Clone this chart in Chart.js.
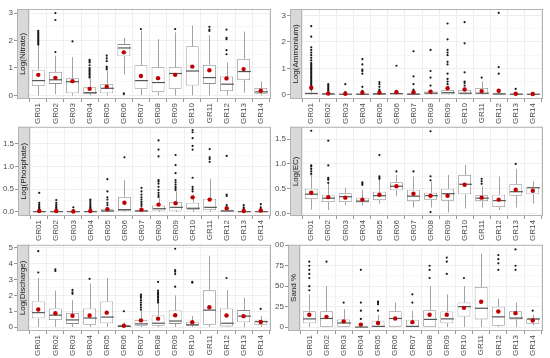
<!DOCTYPE html>
<html>
<head>
<meta charset="utf-8">
<script src="https://cdn.jsdelivr.net/npm/chart.js@4.4.1/dist/chart.umd.min.js"></script>
<style>
  body { margin: 0; background: #fff; }
  #wrap { position: relative; width: 550px; height: 358px; overflow: hidden; }
  canvas { position: absolute; }
</style>
</head>
<body>
<div id="wrap">
  <canvas id="c1"></canvas>
  <canvas id="c2"></canvas>
  <canvas id="c3"></canvas>
  <canvas id="c4"></canvas>
  <canvas id="c5"></canvas>
  <canvas id="c6"></canvas>
</div>
<script>
// groups on the x axis
const categories = ['GR01', 'GR02', 'GR03', 'GR04', 'GR05', 'GR06', 'GR07', 'GR08', 'GR09', 'GR10', 'GR11', 'GR12', 'GR13', 'GR14']

// box rows: [lower whisker, q1, median, q3, upper whisker]
const nitrateBox = [
    [0, 0.34, 0.54, 0.94, 1.8], [0.05, 0.42, 0.57, 0.86, 1.45], [0, 0.08, 0.5, 0.63, 1.4],
    [0, 0.05, 0.1, 0.3, 0.6], [0, 0.08, 0.26, 0.42, 0.9], [0.76, 1.43, 1.73, 1.87, 2.1],
    [0, 0.24, 0.54, 1.1, 2.35], [0, 0.12, 0.47, 1.03, 2.05], [0, 0.24, 0.8, 1.03, 2.3],
    [0, 0.36, 0.89, 1.79, 2.55], [0, 0.42, 0.65, 1.11, 2.2], [0, 0.16, 0.41, 0.69, 1.2],
    [0.1, 0.56, 0.87, 1.33, 2.33], [0, 0.06, 0.13, 0.27, 0.5]
]
const nitrateMean = [0.75, 0.64, 0.52, 0.24, 0.32, 1.57, 0.71, 0.63, 0.75, 1.05, 0.92, 0.62, 0.96, 0.17]
const nitrateOut = [
    [1.85, 1.9, 1.95, 2.0, 2.05, 2.1, 2.15, 2.2, 2.25, 2.3, 2.35], [1.58, 2.75, 3.0], [1.97],
    [0.65, 0.7, 0.75, 0.8, 0.85, 0.9, 0.95, 1.0, 1.1, 1.2, 1.25, 1.3], [0.95, 1.0, 1.05, 1.25, 1.35, 1.45],
    [0.05, 0.08], [2.42], [], [2.42], [], [2.35, 2.4, 2.5], [1.5, 1.65, 2.05, 2.1, 2.4], [], []
]

const ammoniumBox = [
    [0, 0.02, 0.05, 0.08, 0.15], [0, 0, 0.03, 0.06, 0.12], [0, 0, 0.02, 0.04, 0.08],
    [0, 0, 0.02, 0.05, 0.1], [0, 0, 0.03, 0.07, 0.12], [0, 0.02, 0.04, 0.08, 0.12],
    [0, 0, 0.02, 0.06, 0.12], [0, 0.02, 0.06, 0.12, 0.2], [0, 0.02, 0.08, 0.18, 0.35],
    [0, 0.02, 0.06, 0.18, 0.3], [0, 0.02, 0.06, 0.26, 0.5], [0, 0, 0.03, 0.06, 0.12],
    [0, 0, 0.02, 0.05, 0.1], [0, 0, 0.02, 0.04, 0.08]
]
const ammoniumMean = [0.27, 0.05, 0.04, 0.08, 0.08, 0.1, 0.1, 0.12, 0.25, 0.2, 0.14, 0.15, 0.04, 0.03]
const ammoniumOut = [
    [0.2, 0.25, 0.3, 0.35, 0.4, 0.45, 0.5, 0.55, 0.6, 0.65, 0.7, 0.75, 0.8, 0.85, 0.9, 0.95, 1.0, 1.05, 1.1, 1.15, 1.2, 1.3, 1.4, 1.5, 1.6, 1.7, 1.8, 2.2, 2.6],
    [0.15, 0.2, 0.25, 0.3, 0.35, 0.4], [0.1, 0.4], [0.15, 0.3, 0.8, 0.9, 0.95, 1.15, 1.35],
    [0.15, 0.2, 0.3, 0.4, 0.48], [0.15, 1.1], [0.15, 0.2, 0.4, 0.7, 1.65], [0.35, 0.65, 0.9, 1.7],
    [0.4, 0.5, 0.6, 0.8, 1.15, 1.25, 1.5, 1.6, 1.7, 2.1, 2.7], [0.35, 0.45, 0.5, 0.85, 1.95, 2.75],
    [0.65], [0.15, 0.8, 1.05, 3.1], [0.22], []
]

const phosphateBox = [
    [0, 0, 0.005, 0.01, 0.03], [0, 0, 0.005, 0.01, 0.03], [0, 0, 0.005, 0.01, 0.02],
    [0, 0, 0.005, 0.01, 0.03], [0, 0.01, 0.02, 0.06, 0.12], [0, 0.02, 0.05, 0.33, 0.7],
    [0, 0.01, 0.02, 0.05, 0.1], [0, 0.03, 0.07, 0.14, 0.3], [0, 0.03, 0.1, 0.22, 0.45],
    [0, 0.05, 0.08, 0.2, 0.38], [0, 0.04, 0.1, 0.29, 0.72], [0, 0.01, 0.02, 0.05, 0.1],
    [0, 0, 0.005, 0.02, 0.04], [0, 0, 0.005, 0.01, 0.03]
]
const phosphateMean = [0.02, 0.02, 0.01, 0.02, 0.06, 0.2, 0.05, 0.16, 0.19, 0.32, 0.27, 0.08, 0.02, 0.03]
const phosphateOut = [
    [0.05, 0.08, 0.1, 0.13, 0.16, 0.2, 0.42], [0.05, 0.08, 0.1, 0.13, 0.16, 0.2, 0.26], [0.04, 0.1],
    [0.05, 0.08, 0.1, 0.13, 0.16, 0.2, 0.24, 0.27], [0.15, 0.2, 0.27, 0.32, 0.45, 0.72], [1.2],
    [0.13, 0.17, 0.22, 0.27, 0.32, 0.38, 0.45, 0.53],
    [0.33, 0.37, 0.42, 0.48, 0.55, 0.62, 0.67, 0.7, 1.22, 1.37, 1.57],
    [0.48, 0.52, 0.55, 0.6, 0.65, 0.7, 0.85, 1.03, 1.25],
    [0.45, 0.5, 0.55, 0.75, 1.37, 1.45, 1.62, 1.75, 1.8],
    [1.1, 1.16, 1.2, 1.38], [0.15, 0.35, 0.38, 1.23], [0.07, 0.1, 0.15], [0.06, 0.1, 0.17]
]

const ecBox = [
    [0.08, 0.29, 0.39, 0.5, 0.78], [0.07, 0.23, 0.31, 0.38, 0.6], [0.17, 0.23, 0.34, 0.41, 0.52],
    [0.16, 0.22, 0.25, 0.32, 0.48], [0.2, 0.27, 0.36, 0.44, 0.68], [0.35, 0.47, 0.55, 0.63, 0.78],
    [0.12, 0.25, 0.35, 0.48, 0.75], [0.12, 0.28, 0.36, 0.42, 0.64], [0.02, 0.26, 0.4, 0.5, 0.78],
    [0.1, 0.39, 0.59, 0.78, 0.98], [0.12, 0.25, 0.31, 0.37, 0.55], [0.07, 0.13, 0.26, 0.38, 0.75],
    [0.12, 0.36, 0.44, 0.59, 0.9], [0.2, 0.39, 0.52, 0.54, 0.65]
]
const ecMean = [0.42, 0.33, 0.32, 0.28, 0.38, 0.55, 0.4, 0.36, 0.36, 0.58, 0.32, 0.28, 0.48, 0.46]
const ecOut = [
    [0.8, 0.85, 0.9, 0.95, 0.97, 1.67], [0.62, 0.68, 0.7, 0.72, 0.97, 1.47], [], [0.58, 0.6, 0.63],
    [0.7, 0.72, 0.75, 1.18], [0.85], [0.85], [0.03, 0.67, 0.75, 1.66], [], [], [0.6, 0.65, 0.7], [], [1.0], []
]

const dischargeBox = [
    [0, 0.55, 0.91, 1.62, 3.1], [0, 0.45, 0.75, 1.18, 2.3], [0, 0.2, 0.45, 0.89, 1.7],
    [0, 0.14, 0.57, 1.17, 2.75], [0, 0.24, 0.63, 1.62, 3.1], [0, 0, 0.04, 0.14, 0.3],
    [0, 0.08, 0.2, 0.45, 1.0], [0, 0.08, 0.24, 0.73, 1.5], [0, 0.2, 0.38, 1.05, 2.0],
    [0, 0.08, 0.14, 0.34, 0.7], [0, 0.14, 1.07, 2.32, 4.5], [0, 0.04, 0.24, 1.17, 2.35],
    [0, 0.3, 0.69, 1.07, 1.85], [0, 0.14, 0.34, 0.42, 0.7]
]
const dischargeMean = [1.11, 0.87, 0.71, 0.73, 0.91, 0.08, 0.42, 0.53, 0.75, 0.3, 1.25, 0.73, 0.69, 0.32]
const dischargeOut = [
    [3.45, 4.8], [3.55, 3.65], [2.1, 2.2, 2.35], [3.05], [], [1.0],
    [1.1, 1.25, 1.4, 1.55, 1.7, 1.85, 1.95, 2.05],
    [1.55, 1.65, 1.75, 1.85, 1.95, 2.05, 2.1, 2.2, 2.3, 2.85],
    [2.55, 3.35, 3.5, 3.6, 4.95], [2.8, 2.85], [], [3.1], [], [1.15]
]

const sandBox = [
    [0, 4.7, 10, 19.5, 40], [0, 0.4, 10.5, 19.5, 50], [0, 0.4, 5, 9.4, 22],
    [0, 0, 0, 0.8, 2], [0, 0, 0.8, 7.8, 15], [0, 0, 10.5, 19.5, 30],
    [0, 0, 0.8, 9, 20], [0, 0.4, 9.4, 20.7, 50], [0, 4.7, 10, 19, 40],
    [0, 13, 25, 30, 50], [0, 9.4, 23, 49, 90], [0, 1.6, 12.5, 25, 35],
    [0, 9.4, 11, 19.5, 30], [2, 4, 10, 10, 15]
]
const sandMean = [15, 12.5, 7, 3, 5, 10.5, 6, 15, 15, 23.5, 31, 19, 17, 8]
const sandOut = [
    [45, 50, 60, 65, 70, 75, 80], [80], [30], [10, 20, 30, 70], [20, 28, 30, 31], [], [30, 40],
    [60, 70, 75], [65, 80, 85], [60], [], [70, 78, 83, 88], [70, 75, 95], [20]
]

// panel layout (pixels inside each canvas) and axis ranges
const panels = [
    { id: 'c1', x: 0, y: 0, w: 275, left: 28, right: 272, top: 9, bottom: 99, min: -0.13, max: 3.15, step: 1, dec: 0, title: 'Log(Nitrate)', box: nitrateBox, mean: nitrateMean, out: nitrateOut },
    { id: 'c2', x: 275, y: 0, w: 275, left: 26, right: 268, top: 9, bottom: 99, min: -0.16, max: 3.25, step: 1, dec: 0, title: 'Log(Ammonium)', box: ammoniumBox, mean: ammoniumMean, out: ammoniumOut },
    { id: 'c3', x: 0, y: 121, w: 275, left: 29, right: 272, top: 3, bottom: 95, min: -0.09, max: 1.87, step: 0.5, dec: 1, title: 'Log(Phosphate)', box: phosphateBox, mean: phosphateMean, out: phosphateOut },
    { id: 'c4', x: 275, y: 121, w: 275, left: 26, right: 268, top: 3, bottom: 95, min: -0.05, max: 1.75, step: 0.5, dec: 1, title: 'Log(EC)', box: ecBox, mean: ecMean, out: ecOut },
    { id: 'c5', x: 0, y: 239, w: 275, left: 28, right: 272, top: 1, bottom: 92, min: -0.25, max: 5.2, step: 1, dec: 0, title: 'Log(Discharge)', box: dischargeBox, mean: dischargeMean, out: dischargeOut },
    { id: 'c6', x: 275, y: 239, w: 275, left: 24, right: 268, top: 1, bottom: 92, min: -4.8, max: 100.6, step: 25, dec: 0, title: 'Sand %', box: sandBox, mean: sandMean, out: sandOut }
]

Chart.defaults.font.family = "'Liberation Sans', Arial, sans-serif"
Chart.defaults.font.size = 8
Chart.defaults.color = '#4d4d4d'

const STRIP = 11
const LABEL_H = 28

function isMajor(v, step) {
    const r = v / step
    return Math.abs(r - Math.round(r)) < 1e-6
}

// whiskers, medians, panel border and the grey strip with the variable name
function boxPlugin(p) {
    return {
        id: 'boxes',
        afterDatasetDraw(chart, args) {
            if (args.index !== 0) return
            const { ctx, scales: { x, y } } = chart
            const half = (x.getPixelForValue(1.375) - x.getPixelForValue(1))
            ctx.save()
            p.box.forEach(function (b, i) {
                const cx = Math.round(x.getPixelForValue(i + 1)) + 0.5
                ctx.strokeStyle = '#8c8c8c'
                ctx.lineWidth = 0.8
                ctx.beginPath()
                ctx.moveTo(cx, y.getPixelForValue(b[3]))
                ctx.lineTo(cx, y.getPixelForValue(b[4]))
                ctx.moveTo(cx, y.getPixelForValue(b[1]))
                ctx.lineTo(cx, y.getPixelForValue(b[0]))
                ctx.stroke()
                ctx.strokeStyle = '#555'
                ctx.lineWidth = 1.2
                ctx.beginPath()
                const my = y.getPixelForValue(b[2])
                ctx.moveTo(cx - half, my)
                ctx.lineTo(cx + half, my)
                ctx.stroke()
            })
            ctx.restore()
        },
        afterDraw(chart) {
            const { ctx, chartArea: a } = chart
            ctx.save()
            ctx.strokeStyle = '#b3b3b3'
            ctx.lineWidth = 1
            ctx.strokeRect(a.left + 0.5, a.top + 0.5, a.right - a.left - 1, a.bottom - a.top - 1)
            ctx.fillStyle = '#d9d9d9'
            ctx.fillRect(a.left - STRIP, a.top, STRIP, a.bottom - a.top)
            ctx.strokeRect(a.left - STRIP + 0.5, a.top + 0.5, STRIP, a.bottom - a.top - 1)
            ctx.translate(a.left - STRIP / 2, (a.top + a.bottom) / 2)
            ctx.rotate(-Math.PI / 2)
            ctx.fillStyle = '#1a1a1a'
            ctx.font = "8px 'Liberation Sans', Arial, sans-serif"
            ctx.textAlign = 'center'
            ctx.textBaseline = 'middle'
            ctx.fillText(p.title, 0, 0.5)
            ctx.restore()
        }
    }
}

function makeChart(p) {
    const canvas = document.getElementById(p.id)
    const h = p.bottom + LABEL_H
    canvas.width = p.w
    canvas.height = h
    canvas.style.left = p.x + 'px'
    canvas.style.top = p.y + 'px'

    const boxData = p.box.map(function (b, i) { return { x: i + 1, y: [b[1], b[3]] } })
    const meanData = p.mean.map(function (m, i) { return { x: i + 1, y: m } })
    const outData = []
    p.out.forEach(function (arr, i) {
        arr.forEach(function (v) { outData.push({ x: i + 1, y: v }) })
    })

    new Chart(canvas, {
        type: 'bar',
        data: {
            datasets: [
                {
                    type: 'bar', data: boxData, backgroundColor: '#ffffff', borderColor: '#8c8c8c',
                    borderWidth: 0.8, borderSkipped: false, barPercentage: 0.75, categoryPercentage: 1, order: 3
                },
                {
                    type: 'line', data: outData, showLine: false, pointRadius: 1.1,
                    pointBackgroundColor: '#1a1a1a', pointBorderWidth: 0, order: 2
                },
                {
                    type: 'line', data: meanData, showLine: false, pointRadius: 2.2,
                    pointBackgroundColor: '#c00000', pointBorderWidth: 0, order: 1
                }
            ]
        },
        options: {
            responsive: false,
            animation: false,
            events: [],
            layout: { padding: { top: p.top, right: p.w - p.right, left: 0, bottom: 0 } },
            plugins: { legend: { display: false }, tooltip: { enabled: false } },
            scales: {
                x: {
                    type: 'linear', min: 0.4, max: 14.6, offset: false,
                    afterBuildTicks: function (s) { s.ticks = categories.map(function (c, i) { return { value: i + 1 } }) },
                    afterFit: function (s) { s.height = LABEL_H },
                    ticks: {
                        autoSkip: false, minRotation: 90, maxRotation: 90, padding: 1,
                        callback: function (v) { return categories[v - 1] }
                    },
                    grid: { color: '#ebebeb', lineWidth: 0.8, tickLength: 3, tickColor: '#4d4d4d', tickWidth: 0.6 },
                    border: { display: false }
                },
                y: {
                    min: p.min, max: p.max,
                    afterBuildTicks: function (s) {
                        const hs = p.step / 2
                        const t = []
                        for (let v = Math.ceil(p.min / hs) * hs; v <= p.max + 1e-9; v += hs) t.push({ value: +v.toFixed(4) })
                        s.ticks = t
                    },
                    afterFit: function (s) { s.width = p.left },
                    ticks: {
                        autoSkip: false, padding: 1,
                        callback: function (v) { return isMajor(v, p.step) ? v.toFixed(p.dec) : '' }
                    },
                    grid: {
                        tickLength: STRIP + 3,
                        color: function (c) { return isMajor(c.tick.value, p.step) ? '#ebebeb' : '#f5f5f5' },
                        lineWidth: 0.8,
                        tickColor: function (c) { return isMajor(c.tick.value, p.step) ? '#4d4d4d' : 'rgba(0,0,0,0)' },
                        tickWidth: 0.6
                    },
                    border: { display: false }
                }
            }
        },
        plugins: [boxPlugin(p)]
    })
}

panels.forEach(makeChart)
</script>
</body>
</html>
